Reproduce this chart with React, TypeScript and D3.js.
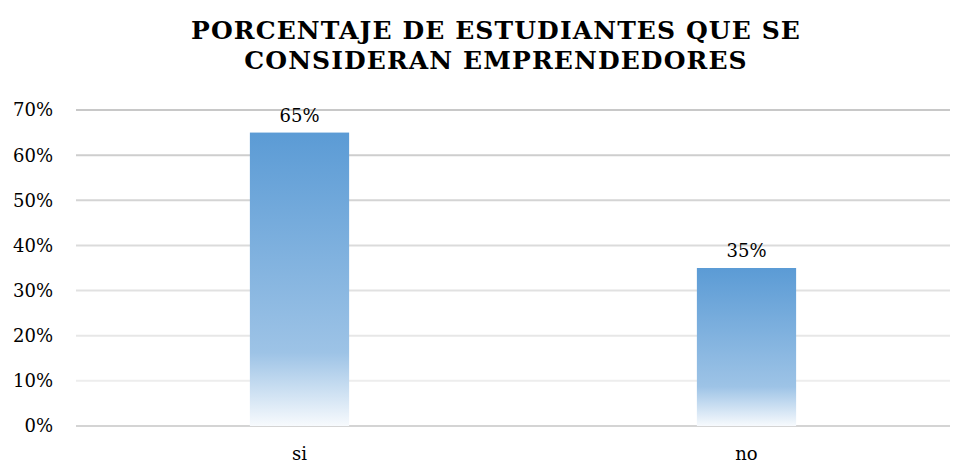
import React from 'react';
import * as d3 from 'd3';

const categories = ['si', 'no'];
const values = [65, 35];
const yTicks = [0, 10, 20, 30, 40, 50, 60, 70];
const titleLines = ['PORCENTAJE DE ESTUDIANTES QUE SE', 'CONSIDERAN EMPRENDEDORES'];

const W = 958;
const H = 463;
const font = "'DejaVu Serif', serif";

const App: React.FC = () => {
  const gridLeft = 76;
  const gridRight = 950;

  const x = d3
    .scaleBand<string>()
    .domain(categories)
    .range([76, 970])
    .paddingInner(0.778)
    .paddingOuter(0.389);

  const y = d3.scaleLinear().domain([0, 70]).range([426, 110]);

  // grid lines get darker towards the top, like the original
  const gridColor = d3.scaleLinear<string>().domain([10, 70]).range(['#ededed', '#c8c8c8']);

  const txt = { fontFamily: font };

  return (
    <svg
      width={W}
      height={H}
      style={{ position: 'absolute', left: 0, top: 0, background: '#fff', fontFamily: font }}
    >
      <defs>
        <linearGradient id="barFill" x1="0" y1="0" x2="0" y2="1">
          <stop offset="0" stopColor="#5b9bd5" />
          <stop offset="0.75" stopColor="#9dc3e6" />
          <stop offset="1" stopColor="#f7fafd" />
        </linearGradient>
      </defs>

      {titleLines.map((t, i) => (
        <text
          key={t}
          x={496}
          y={39 + i * 30}
          textAnchor="middle"
          fontSize={25}
          fontWeight="bold"
          letterSpacing={1.1}
          fill="#000"
          style={txt}
        >
          {t}
        </text>
      ))}

      {yTicks.map(t => (
        <g key={t}>
          <line
            x1={gridLeft}
            x2={gridRight}
            y1={y(t)}
            y2={y(t)}
            stroke={t === 0 ? '#d4d4d4' : gridColor(t)}
            strokeWidth={2}
          />
          <text x={53} y={y(t)} dy="0.36em" textAnchor="end" fontSize={18} fill="#000" style={txt}>
            {t}%
          </text>
        </g>
      ))}

      {categories.map((c, i) => {
        const bx = x(c)!;
        const top = y(values[i]);
        return (
          <g key={c}>
            <rect
              x={bx}
              y={top}
              width={x.bandwidth()}
              height={y(0) - top}
              fill="url(#barFill)"
            />
            <text
              x={bx + x.bandwidth() / 2}
              y={top - 11}
              textAnchor="middle"
              fontSize={18}
              fill="#000"
              style={txt}
            >
              {values[i]}%
            </text>
            <text
              x={bx + x.bandwidth() / 2}
              y={460}
              textAnchor="middle"
              fontSize={18}
              fill="#000"
              style={txt}
            >
              {c}
            </text>
          </g>
        );
      })}
    </svg>
  );
};

export default App;
